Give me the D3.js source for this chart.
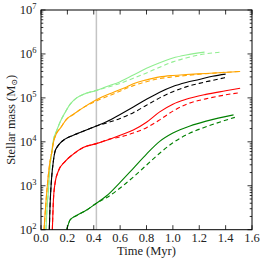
<!DOCTYPE html>
<html>
<head>
<meta charset="utf-8">
<script src="https://cdn.jsdelivr.net/npm/d3@7"></script>
<style>
  body { margin: 0; background: #fff; }
  text { font-family: "Liberation Serif", "DejaVu Serif", serif; fill: #222; }
</style>
</head>
<body>
<div id="chart"></div>
<script>
// [time (Myr), stellar mass (Msun)]
const lightgreenSolid = [[0.038, 1.0e2], [0.048, 4.0e2], [0.055, 6.8e2], [0.068, 2.8e3], [0.081, 5.6e3], [0.093, 1.05e4], [0.119, 1.8e4], [0.144, 2.8e4], [0.18, 4.5e4], [0.22, 7.1e4], [0.27, 1.0e5], [0.32, 1.2e5], [0.42, 1.48e5], [0.50, 1.82e5], [0.60, 2.34e5], [0.70, 3.3e5], [0.80, 4.7e5], [0.90, 6.3e5], [1.00, 8.1e5], [1.10, 9.5e5], [1.24, 1.1e6]];
const lightgreenDashed = [[0.038, 1.0e2], [0.048, 4.0e2], [0.055, 6.8e2], [0.068, 2.8e3], [0.081, 5.6e3], [0.093, 1.05e4], [0.119, 1.8e4], [0.144, 2.8e4], [0.18, 4.5e4], [0.22, 7.1e4], [0.27, 1.0e5], [0.32, 1.2e5], [0.42, 1.48e5], [0.50, 1.74e5], [0.60, 2.14e5], [0.70, 2.8e5], [0.80, 3.7e5], [0.90, 5.0e5], [1.00, 6.6e5], [1.10, 8.1e5], [1.20, 9.5e5], [1.36, 1.1e6]];
const orangeSolid = [[0.023, 1.0e2], [0.043, 6.8e2], [0.068, 3.5e3], [0.081, 5.6e3], [0.093, 9.3e3], [0.119, 1.58e4], [0.144, 2.0e4], [0.195, 3.3e4], [0.245, 4.2e4], [0.32, 6.0e4], [0.42, 9.1e4], [0.55, 1.35e5], [0.65, 1.78e5], [0.70, 2.1e5], [0.80, 2.57e5], [0.90, 3.0e5], [1.00, 3.24e5], [1.10, 3.4e5], [1.25, 3.6e5], [1.51, 4.0e5]];
const orangeDashed = [[0.023, 1.0e2], [0.043, 6.8e2], [0.068, 3.5e3], [0.081, 5.6e3], [0.093, 9.3e3], [0.119, 1.58e4], [0.144, 2.0e4], [0.195, 3.3e4], [0.245, 4.2e4], [0.32, 6.0e4], [0.42, 8.5e4], [0.55, 1.23e5], [0.70, 1.9e5], [0.80, 2.34e5], [0.90, 2.75e5], [1.00, 3.0e5], [1.10, 3.24e5], [1.25, 3.55e5], [1.51, 4.0e5]];
const blackSolid = [[0.063, 1.0e2], [0.068, 3.2e2], [0.073, 6.8e2], [0.081, 1.58e3], [0.093, 3.5e3], [0.106, 6.0e3], [0.131, 8.3e3], [0.182, 1.15e4], [0.245, 1.41e4], [0.32, 1.74e4], [0.42, 2.3e4], [0.50, 2.9e4], [0.60, 4.2e4], [0.70, 6.2e4], [0.80, 9.3e4], [0.90, 1.35e5], [1.00, 1.82e5], [1.10, 2.24e5], [1.20, 2.63e5], [1.30, 3.1e5], [1.40, 3.47e5]];
const blackDashed = [[0.063, 1.0e2], [0.068, 3.2e2], [0.073, 6.8e2], [0.081, 1.58e3], [0.093, 3.5e3], [0.106, 6.0e3], [0.131, 8.3e3], [0.182, 1.15e4], [0.245, 1.41e4], [0.32, 1.74e4], [0.42, 2.3e4], [0.50, 2.7e4], [0.60, 3.4e4], [0.70, 4.6e4], [0.80, 6.8e4], [0.90, 1.0e5], [1.00, 1.38e5], [1.10, 1.78e5], [1.20, 2.14e5], [1.30, 2.5e5], [1.41, 2.95e5]];
const redSolid = [[0.086, 1.0e2], [0.093, 4.0e2], [0.106, 1.12e3], [0.131, 2.14e3], [0.182, 3.55e3], [0.245, 5.25e3], [0.32, 7.4e3], [0.42, 9.1e3], [0.52, 1.15e4], [0.60, 1.41e4], [0.70, 1.86e4], [0.80, 2.8e4], [0.90, 4.8e4], [1.00, 7.2e4], [1.10, 9.3e4], [1.25, 1.2e5], [1.40, 1.45e5], [1.51, 1.66e5]];
const redDashed = [[0.086, 1.0e2], [0.093, 4.0e2], [0.106, 1.12e3], [0.131, 2.14e3], [0.182, 3.55e3], [0.245, 5.25e3], [0.32, 7.4e3], [0.42, 9.1e3], [0.52, 1.15e4], [0.60, 1.29e4], [0.70, 1.58e4], [0.80, 2.1e4], [0.90, 3.16e4], [1.00, 5.0e4], [1.10, 7.1e4], [1.25, 9.5e4], [1.40, 1.17e5], [1.51, 1.32e5]];
const greenSolid = [[0.195, 1.0e2], [0.21, 1.41e2], [0.22, 1.66e2], [0.27, 2.1e2], [0.346, 2.8e2], [0.42, 4.0e2], [0.50, 6.0e2], [0.60, 1.2e3], [0.70, 2.5e3], [0.80, 5.25e3], [0.90, 1.02e4], [1.00, 1.58e4], [1.13, 2.3e4], [1.26, 3.0e4], [1.46, 4.1e4]];
const greenDashed = [[0.195, 1.0e2], [0.21, 1.41e2], [0.22, 1.66e2], [0.27, 2.1e2], [0.346, 2.8e2], [0.42, 4.0e2], [0.50, 5.4e2], [0.60, 8.9e2], [0.70, 1.58e3], [0.80, 2.95e3], [0.90, 5.5e3], [1.00, 9.5e3], [1.13, 1.58e4], [1.26, 2.24e4], [1.47, 3.6e4]];

const xTicks = [0.0, 0.2, 0.4, 0.6, 0.8, 1.0, 1.2, 1.4, 1.6];
const yDecades = [2, 3, 4, 5, 6, 7];
const markerTime = 0.42;

const series = [
    { data: lightgreenSolid, color: "#90ee90", dash: null },
    { data: lightgreenDashed, color: "#90ee90", dash: "4.5,3" },
    { data: orangeSolid, color: "#ffa500", dash: null },
    { data: orangeDashed, color: "#ffa500", dash: "4.5,3" },
    { data: blackSolid, color: "#000000", dash: null },
    { data: blackDashed, color: "#000000", dash: "4.5,3" },
    { data: redSolid, color: "#ff0000", dash: null },
    { data: redDashed, color: "#ff0000", dash: "4.5,3" },
    { data: greenSolid, color: "#008000", dash: null },
    { data: greenDashed, color: "#008000", dash: "4.5,3" }
];

const width = 266;
const height = 265;
const margin = { top: 10, right: 14, bottom: 35.3, left: 41 };
const plotW = width - margin.left - margin.right;
const plotH = height - margin.top - margin.bottom;

const svg = d3.select("#chart")
    .append("svg")
    .attr("width", width)
    .attr("height", height);

const x = d3.scaleLinear().domain([0, 1.6]).range([margin.left, margin.left + plotW]);
const y = d3.scaleLog().domain([1e2, 1e7]).range([margin.top + plotH, margin.top]);

svg.append("clipPath").attr("id", "clip")
    .append("rect")
    .attr("x", margin.left).attr("y", margin.top)
    .attr("width", plotW).attr("height", plotH);

const plot = svg.append("g").attr("clip-path", "url(#clip)");

// vertical marker
plot.append("line")
    .attr("x1", x(markerTime)).attr("x2", x(markerTime))
    .attr("y1", margin.top).attr("y2", margin.top + plotH)
    .attr("stroke", "#c4c4c4")
    .attr("stroke-width", 1.5);

const line = d3.line()
    .x(d => x(d[0]))
    .y(d => y(d[1]))
    .curve(d3.curveMonotoneX);

plot.selectAll("path.curve")
    .data(series)
    .enter().append("path")
    .attr("class", "curve")
    .attr("d", d => line(d.data))
    .attr("fill", "none")
    .attr("stroke", d => d.color)
    .attr("stroke-width", 1.1)
    .attr("stroke-dasharray", d => d.dash);

// ticks (inside, on all four sides)
const majorLen = 4.5, minorLen = 2.3;
const tickG = svg.append("g").attr("stroke", "#000").attr("stroke-width", 0.8);
xTicks.forEach(t => {
    tickG.append("line").attr("x1", x(t)).attr("x2", x(t))
        .attr("y1", margin.top + plotH).attr("y2", margin.top + plotH - majorLen);
    tickG.append("line").attr("x1", x(t)).attr("x2", x(t))
        .attr("y1", margin.top).attr("y2", margin.top + majorLen);
});
yDecades.forEach(p => {
    const v = Math.pow(10, p);
    tickG.append("line").attr("x1", margin.left).attr("x2", margin.left + majorLen)
        .attr("y1", y(v)).attr("y2", y(v));
    tickG.append("line").attr("x1", margin.left + plotW).attr("x2", margin.left + plotW - majorLen)
        .attr("y1", y(v)).attr("y2", y(v));
    if (p < 7) {
        for (let k = 2; k <= 9; k++) {
            const m = k * v;
            tickG.append("line").attr("x1", margin.left).attr("x2", margin.left + minorLen)
                .attr("y1", y(m)).attr("y2", y(m));
            tickG.append("line").attr("x1", margin.left + plotW).attr("x2", margin.left + plotW - minorLen)
                .attr("y1", y(m)).attr("y2", y(m));
        }
    }
});

// frame
svg.append("rect")
    .attr("x", margin.left).attr("y", margin.top)
    .attr("width", plotW).attr("height", plotH)
    .attr("fill", "none")
    .attr("stroke", "#000")
    .attr("stroke-width", 1);

// tick labels
svg.selectAll("text.xtick")
    .data(xTicks)
    .enter().append("text")
    .attr("class", "xtick")
    .attr("x", d => x(d))
    .attr("y", margin.top + plotH + 12.3)
    .attr("text-anchor", "middle")
    .attr("font-size", 12.5)
    .text(d => d.toFixed(1));

const yLab = svg.selectAll("text.ytick")
    .data(yDecades)
    .enter().append("text")
    .attr("class", "ytick")
    .attr("x", margin.left - 4.5)
    .attr("y", d => y(Math.pow(10, d)) + 4.3)
    .attr("text-anchor", "end")
    .attr("font-size", 12.5);
yLab.append("tspan").text("10");
yLab.append("tspan")
    .attr("dy", -5)
    .attr("font-size", 8.5)
    .text(d => d);

// axis titles
svg.append("text")
    .attr("x", margin.left + plotW / 2)
    .attr("y", 255)
    .attr("text-anchor", "middle")
    .attr("font-size", 12.5)
    .text("Time (Myr)");

const yt = svg.append("text")
    .attr("transform", `translate(14.5, ${margin.top + plotH / 2}) rotate(-90)`)
    .attr("text-anchor", "middle")
    .attr("font-size", 12.5);
yt.append("tspan").text("Stellar mass (M");
yt.append("tspan").attr("font-size", 8).attr("dy", 2.5).text("⊙");
yt.append("tspan").attr("dy", -2.5).text(")");
</script>
</body>
</html>
